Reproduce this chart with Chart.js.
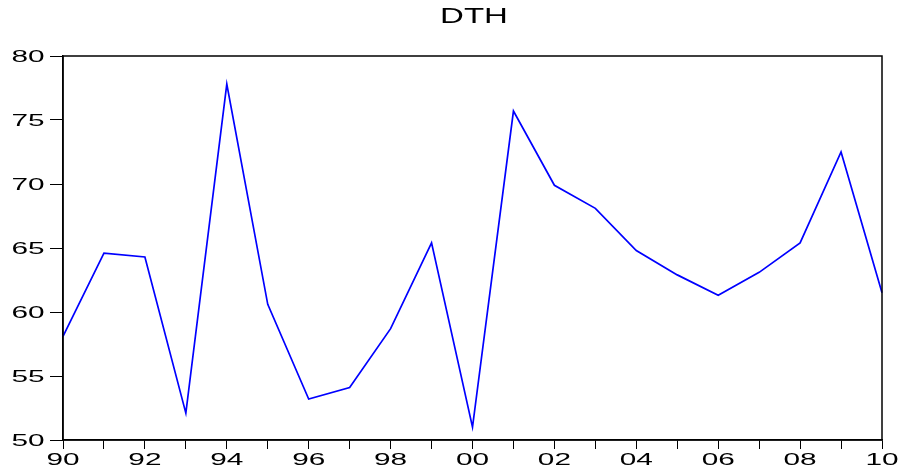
<!DOCTYPE html>
<html>
<head>
<meta charset="utf-8">
<script src="https://cdn.jsdelivr.net/npm/chart.js@4/dist/chart.umd.min.js"></script>
<style>
  html, body { margin: 0; padding: 0; background: #fff; }
  #wrap { width: 898px; height: 472px; }
</style>
</head>
<body>
<div id="wrap"><canvas id="dthChart" width="898" height="472"></canvas></div>
<script>
// Data
const years = ['1990', '1991', '1992', '1993', '1994', '1995', '1996', '1997', '1998', '1999', '2000',
               '2001', '2002', '2003', '2004', '2005', '2006', '2007', '2008', '2009', '2010'];
const dth = [58.1, 64.6, 64.3, 52.1, 77.8, 60.6, 53.2, 54.1, 58.7, 65.4, 51.0,
             75.7, 69.9, 68.1, 64.8, 62.9, 61.3, 63.1, 65.4, 72.5, 61.5];
const yTicks = [50, 55, 60, 65, 70, 75, 80];
const chartTitle = 'DTH';

// Labels in the picture are drawn wide, so stretch the text horizontally
function drawWideText(ctx, text, x, y, size, stretch, align) {
    ctx.save();
    ctx.font = size + 'px "Liberation Sans", Arial, sans-serif';
    ctx.fillStyle = '#000';
    ctx.textAlign = align;
    ctx.textBaseline = 'alphabetic';
    ctx.translate(x, y);
    ctx.scale(stretch, 1);
    ctx.fillText(text, 0, 0);
    ctx.restore();
}

const frameAndLabels = {
    id: 'frameAndLabels',
    afterDraw(chart) {
        const ctx = chart.ctx;
        const area = chart.chartArea;

        // box round the plot
        ctx.save();
        ctx.strokeStyle = '#000';
        ctx.lineWidth = 1.5;
        ctx.strokeRect(area.left, area.top, area.right - area.left, area.bottom - area.top);
        ctx.restore();

        // y tick labels
        const ys = chart.scales.y;
        ys.ticks.forEach((t, i) => {
            const py = ys.getPixelForTick(i);
            drawWideText(ctx, t.label, 44.5, py + 5.7, 16, 1.86, 'right');
        });

        // x tick labels
        const xs = chart.scales.x;
        xs.ticks.forEach((t, i) => {
            if (!t.label) return;
            const px = xs.getPixelForTick(i);
            drawWideText(ctx, t.label, px, 465, 16, 1.86, 'center');
        });

        // title
        drawWideText(ctx, chartTitle, (area.left + area.right) / 2 + 1.5, 23.3, 22, 1.5, 'center');
    }
};

function initializeChart() {
    const ctx = document.getElementById('dthChart').getContext('2d');
    new Chart(ctx, {
        type: 'line',
        data: {
            labels: years,
            datasets: [{
                data: dth,
                borderColor: '#0000ff',
                borderWidth: 1.7,
                pointRadius: 0,
                tension: 0,
                fill: false
            }]
        },
        options: {
            responsive: false,
            animation: false,
            layout: { padding: { left: 0, right: 16, top: 56, bottom: 0 } },
            plugins: {
                legend: { display: false },
                title: { display: false },
                tooltip: { enabled: false }
            },
            scales: {
                x: {
                    type: 'category',
                    offset: false,
                    grid: { drawOnChartArea: false, drawTicks: true, tickLength: 9, color: '#000', lineWidth: 1 },
                    border: { display: true, color: '#000', width: 1.5 },
                    ticks: {
                        display: false,
                        autoSkip: false,
                        callback: function (value, index) {
                            const y = years[index];
                            return (Number(y) % 2 === 0) ? y.slice(2) : '';
                        }
                    },
                    afterFit: (scale) => { scale.height = 32; }
                },
                y: {
                    min: 50,
                    max: 80,
                    afterBuildTicks: (scale) => { scale.ticks = yTicks.map(v => ({ value: v })); },
                    grid: { drawOnChartArea: false, drawTicks: true, tickLength: 13, color: '#000', lineWidth: 1 },
                    border: { display: true, color: '#000', width: 1.5 },
                    ticks: { display: false },
                    afterFit: (scale) => { scale.width = 63; }
                }
            }
        },
        plugins: [frameAndLabels]
    });
}

document.addEventListener('DOMContentLoaded', () => {
    initializeChart();
});
</script>
</body>
</html>
